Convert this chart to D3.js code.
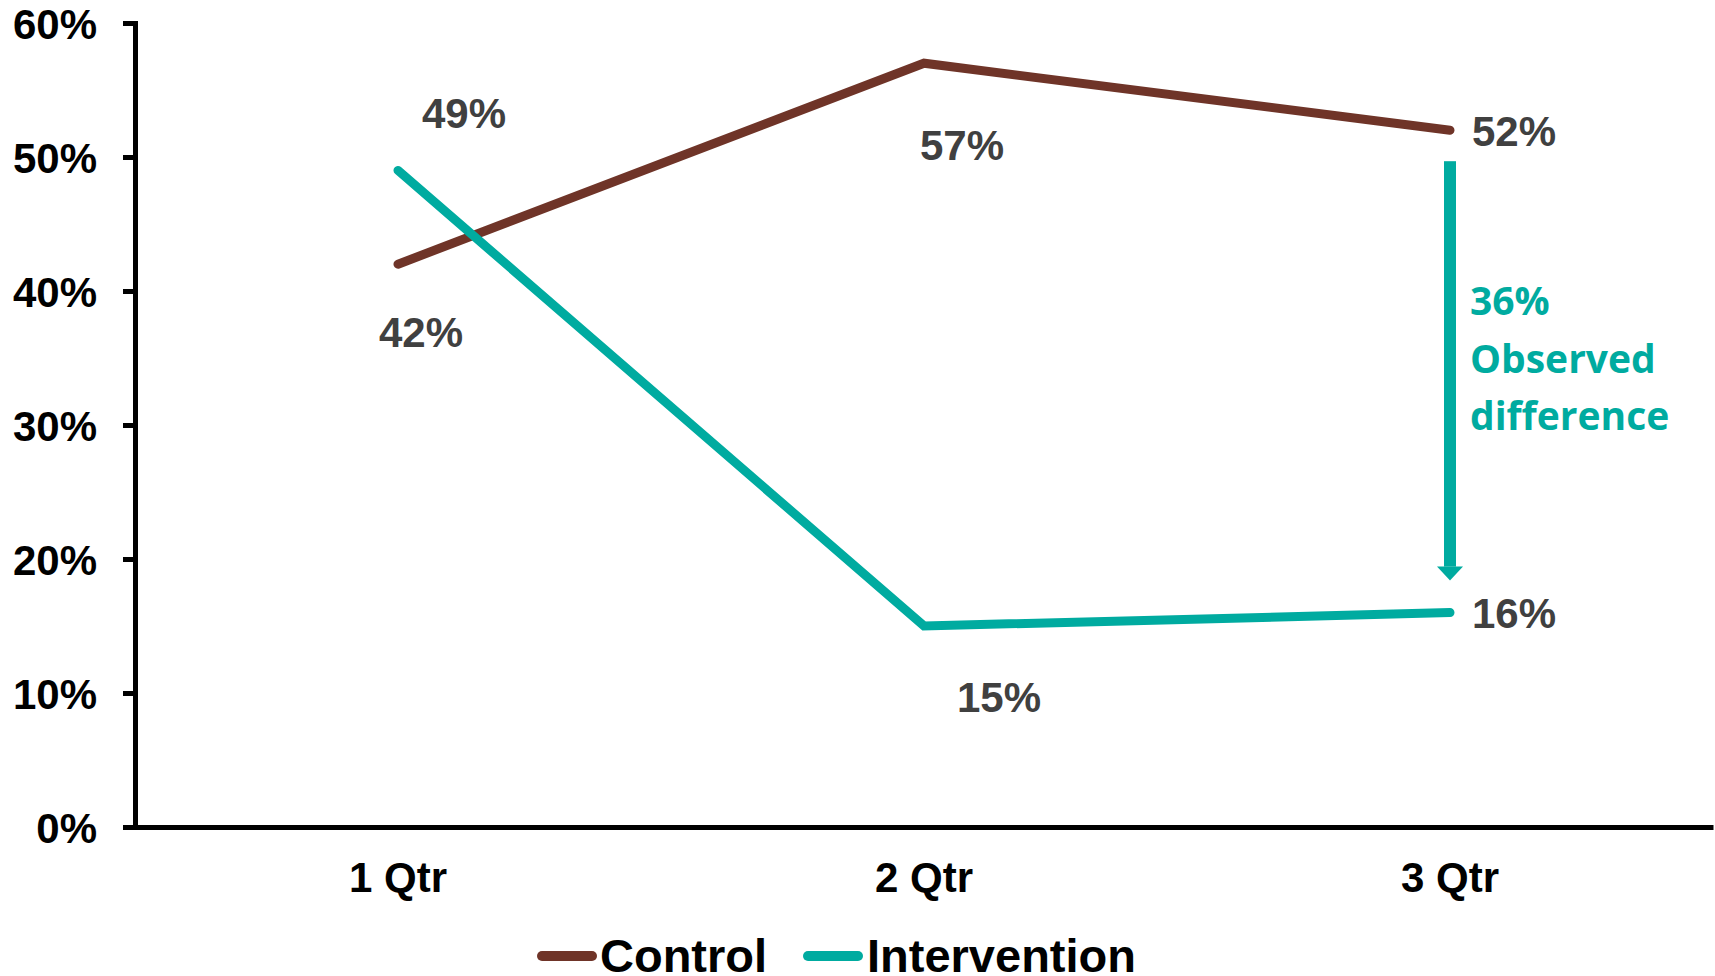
<!DOCTYPE html>
<html>
<head>
<meta charset="utf-8">
<script src="https://cdn.jsdelivr.net/npm/d3@7"></script>
<style>
  html, body { margin: 0; padding: 0; background: #ffffff; }
  svg { display: block; }
</style>
</head>
<body>
<svg id="chart" width="1715" height="976"></svg>
<script>
// Quarterly rates for the two study arms
const categories = ["1 Qtr", "2 Qtr", "3 Qtr"];
const controlValues = [42, 57, 52];
const interventionValues = [49, 15, 16];
const seriesNames = ["Control", "Intervention"];
const yTickValues = [0, 10, 20, 30, 40, 50, 60];
const differenceValue = 36;
const differenceLines = [differenceValue + "%", "Observed", "difference"];

// Label nudges (pixels from each point to the label centre / baseline)
const controlLabelOffsets = [[23, 83], [38, 97], [64, 16]];
const interventionLabelOffsets = [[66, -42], [75, 86], [64, 15]];

const colors = { Control: "#6f3428", Intervention: "#00aba0" };
const svg = d3.select("#chart");

const x = d3.scaleBand().domain(categories).range([135, 1713]).padding(0);
const y = d3.scaleLinear().domain([0, 60]).range([827, 23]);
const cx = c => x(c) + x.bandwidth() / 2;

// Y axis
const yAxis = svg.append("g")
  .attr("transform", "translate(135,0)")
  .call(d3.axisLeft(y).tickValues(yTickValues).tickSize(12).tickPadding(26)
    .tickFormat(d => d + "%"));
yAxis.selectAll("path, line").attr("stroke", "#000").attr("stroke-width", 5);
yAxis.selectAll("text")
  .attr("fill", "#000")
  .style("font-family", "'Liberation Sans', Arial, sans-serif")
  .style("font-weight", "bold")
  .style("font-size", "42px")
  .attr("dy", "0.36em");

// X axis
const xAxis = svg.append("g")
  .attr("transform", "translate(0,827)")
  .call(d3.axisBottom(x).tickSize(0).tickSizeOuter(0));
xAxis.select(".domain").attr("stroke", "#000").attr("stroke-width", 5);
xAxis.selectAll("text")
  .attr("fill", "#000")
  .attr("y", 65)
  .attr("dy", 0)
  .style("font-family", "'Liberation Sans', Arial, sans-serif")
  .style("font-weight", "bold")
  .style("font-size", "42px");

// Series lines
const series = [
  { name: "Control", values: controlValues, offsets: controlLabelOffsets },
  { name: "Intervention", values: interventionValues, offsets: interventionLabelOffsets }
];
const line = d3.line().x((d, i) => cx(categories[i])).y(d => y(d));

series.forEach(s => {
  svg.append("path")
    .datum(s.values)
    .attr("d", line)
    .attr("fill", "none")
    .attr("stroke", colors[s.name])
    .attr("stroke-width", 9)
    .attr("stroke-linecap", "round")
    .attr("stroke-linejoin", "miter");
});

// Value labels
series.forEach(s => {
  svg.append("g").selectAll("text")
    .data(s.values)
    .join("text")
    .attr("x", (d, i) => cx(categories[i]) + s.offsets[i][0])
    .attr("y", (d, i) => y(d) + s.offsets[i][1])
    .attr("text-anchor", "middle")
    .attr("fill", "#404040")
    .style("font-family", "'Liberation Sans', Arial, sans-serif")
    .style("font-weight", "bold")
    .style("font-size", "42px")
    .text(d => d + "%");
});

// Difference arrow at the last quarter
const last = categories.length - 1;
const ax = cx(categories[last]);
const aTop = y(controlValues[last]) + 31;
const aTip = y(interventionValues[last]) - 32;
const headH = 14, headW = 26, shaftW = 12;
svg.append("rect")
  .attr("x", ax - shaftW / 2).attr("y", aTop)
  .attr("width", shaftW).attr("height", aTip - headH - aTop)
  .attr("fill", colors.Intervention);
svg.append("path")
  .attr("d", `M${ax - headW / 2},${aTip - headH}L${ax + headW / 2},${aTip - headH}L${ax},${aTip}Z`)
  .attr("fill", colors.Intervention);

svg.append("g").selectAll("text")
  .data(differenceLines)
  .join("text")
  .attr("x", ax + 20)
  .attr("y", (d, i) => 315 + i * 57.5)
  .attr("fill", colors.Intervention)
  .style("font-family", "'Open Sans', 'Noto Sans', sans-serif")
  .style("font-weight", "bold")
  .style("font-size", "39px")
  .text(d => d);

// Legend
const legendItems = [
  { name: seriesNames[0], lineX: 542, textX: 600 },
  { name: seriesNames[1], lineX: 808, textX: 867 }
];
const legend = svg.append("g");
legendItems.forEach(item => {
  legend.append("line")
    .attr("x1", item.lineX).attr("x2", item.lineX + 50)
    .attr("y1", 956).attr("y2", 956)
    .attr("stroke", colors[item.name])
    .attr("stroke-width", 10)
    .attr("stroke-linecap", "round");
  legend.append("text")
    .attr("x", item.textX)
    .attr("y", 972)
    .attr("fill", "#000")
    .style("font-family", "'Liberation Sans', Arial, sans-serif")
    .style("font-weight", "bold")
    .style("font-size", "47px")
    .text(item.name);
});
</script>
</body>
</html>
